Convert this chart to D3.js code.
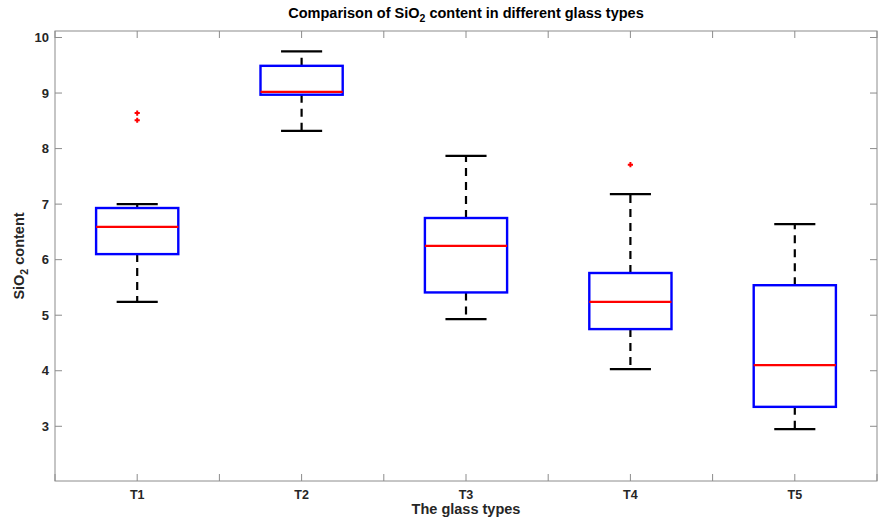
<!DOCTYPE html>
<html>
<head>
<meta charset="utf-8">
<script src="https://cdn.jsdelivr.net/npm/d3@7"></script>
<style>
  body { margin: 0; background: #fff; }
  svg text { font-family: "Liberation Sans", Arial, sans-serif; font-weight: bold; }
</style>
</head>
<body>
<svg id="chart" width="884" height="522"></svg>
<script>
// glass types and box statistics
var categories = ['T1', 'T2', 'T3', 'T4', 'T5'];
var whiskerLow = [5.24, 8.32, 4.93, 4.03, 2.95];
var q1 = [6.10, 8.97, 5.41, 4.75, 3.35];
var median = [6.59, 9.02, 6.25, 5.24, 4.10];
var q3 = [6.93, 9.49, 6.75, 5.76, 5.54];
var whiskerHigh = [7.00, 9.75, 7.87, 7.18, 6.64];
var outliers = [[8.51, 8.64], [], [], [7.71], []];
var yTicks = [3, 4, 5, 6, 7, 8, 9, 10];

var svg = d3.select('#chart');
// plot area edges (note: "top" is reserved on window, so use other names)
var plotLeft = 55, plotRight = 877, plotTop = 31, plotBottom = 481;

var x = d3.scaleLinear().domain([0.5, 5.5]).range([plotLeft, plotRight]);
var y = d3.scaleLinear().domain([2.015, 10.117]).range([plotBottom, plotTop]);

var axisColor = '#8c8c8c';
var tickLen = 7;
var xTickVals = d3.range(0.5, 5.51, 0.5);

// axes box
svg.append('rect')
    .attr('x', plotLeft).attr('y', plotTop)
    .attr('width', plotRight - plotLeft).attr('height', plotBottom - plotTop)
    .style('fill', 'none').style('stroke', axisColor).style('stroke-width', 1);

// inward ticks, bottom + top
xTickVals.forEach(function (t) {
    svg.append('line').attr('x1', x(t)).attr('x2', x(t)).attr('y1', plotBottom).attr('y2', plotBottom - tickLen)
        .style('stroke', axisColor);
    svg.append('line').attr('x1', x(t)).attr('x2', x(t)).attr('y1', plotTop).attr('y2', plotTop + tickLen)
        .style('stroke', axisColor);
});
// left + right ticks
yTicks.forEach(function (t) {
    svg.append('line').attr('x1', plotLeft).attr('x2', plotLeft + tickLen).attr('y1', y(t)).attr('y2', y(t))
        .style('stroke', axisColor);
    svg.append('line').attr('x1', plotRight).attr('x2', plotRight - tickLen).attr('y1', y(t)).attr('y2', y(t))
        .style('stroke', axisColor);
    svg.append('text')
        .attr('x', plotLeft - 6).attr('y', y(t) + 4.5)
        .attr('text-anchor', 'end')
        .style('font-size', '13px').style('fill', '#262626')
        .text(t);
});

// category labels
categories.forEach(function (c, i) {
    svg.append('text')
        .attr('x', x(i + 1)).attr('y', 498.5)
        .attr('text-anchor', 'middle')
        .style('font-size', '12.5px').style('fill', '#262626')
        .text(c);
});

var boxHalf = 0.25, capHalf = 0.125;

categories.forEach(function (c, i) {
    var cx = x(i + 1);

    // dashed whiskers
    svg.append('line').attr('x1', cx).attr('x2', cx).attr('y1', y(q3[i])).attr('y2', y(whiskerHigh[i]))
        .style('stroke', '#000').style('stroke-width', 2.2).style('stroke-dasharray', '8,6');
    svg.append('line').attr('x1', cx).attr('x2', cx).attr('y1', y(q1[i])).attr('y2', y(whiskerLow[i]))
        .style('stroke', '#000').style('stroke-width', 2.2).style('stroke-dasharray', '8,6');

    // caps
    [whiskerLow[i], whiskerHigh[i]].forEach(function (v) {
        svg.append('line')
            .attr('x1', x(i + 1 - capHalf)).attr('x2', x(i + 1 + capHalf))
            .attr('y1', y(v)).attr('y2', y(v))
            .style('stroke', '#000').style('stroke-width', 2.2);
    });

    // box
    svg.append('rect')
        .attr('x', x(i + 1 - boxHalf)).attr('y', y(q3[i]))
        .attr('width', x(i + 1 + boxHalf) - x(i + 1 - boxHalf))
        .attr('height', y(q1[i]) - y(q3[i]))
        .style('fill', 'none').style('stroke', '#0000ff').style('stroke-width', 2.4);

    // median
    svg.append('line')
        .attr('x1', x(i + 1 - boxHalf)).attr('x2', x(i + 1 + boxHalf))
        .attr('y1', y(median[i])).attr('y2', y(median[i]))
        .style('stroke', '#ff0000').style('stroke-width', 2.2);

    // outliers as red plus markers
    outliers[i].forEach(function (v) {
        var py = y(v), s = 2.6;
        svg.append('path')
            .attr('d', 'M' + (cx - s) + ',' + py + 'H' + (cx + s) + 'M' + cx + ',' + (py - s) + 'V' + (py + s))
            .style('stroke', '#ff0000').style('stroke-width', 2);
    });
});

// title
var title = svg.append('text')
    .attr('x', (plotLeft + plotRight) / 2).attr('y', 17.5)
    .attr('text-anchor', 'middle')
    .style('font-size', '14.5px').style('fill', '#000');
title.append('tspan').text('Comparison of SiO');
title.append('tspan').attr('dy', 4).style('font-size', '10.5px').text('2');
title.append('tspan').attr('dy', -4).text(' content in different glass types');

// x label
svg.append('text')
    .attr('x', (plotLeft + plotRight) / 2).attr('y', 514)
    .attr('text-anchor', 'middle')
    .style('font-size', '14.5px').style('fill', '#262626')
    .text('The glass types');

// y label
var ylab = svg.append('text')
    .attr('transform', 'translate(24,' + ((plotTop + plotBottom) / 2) + ') rotate(-90)')
    .attr('text-anchor', 'middle')
    .style('font-size', '14.5px').style('fill', '#262626');
ylab.append('tspan').text('SiO');
ylab.append('tspan').attr('dy', 4).style('font-size', '10.5px').text('2');
ylab.append('tspan').attr('dy', -4).text(' content');
</script>
</body>
</html>
